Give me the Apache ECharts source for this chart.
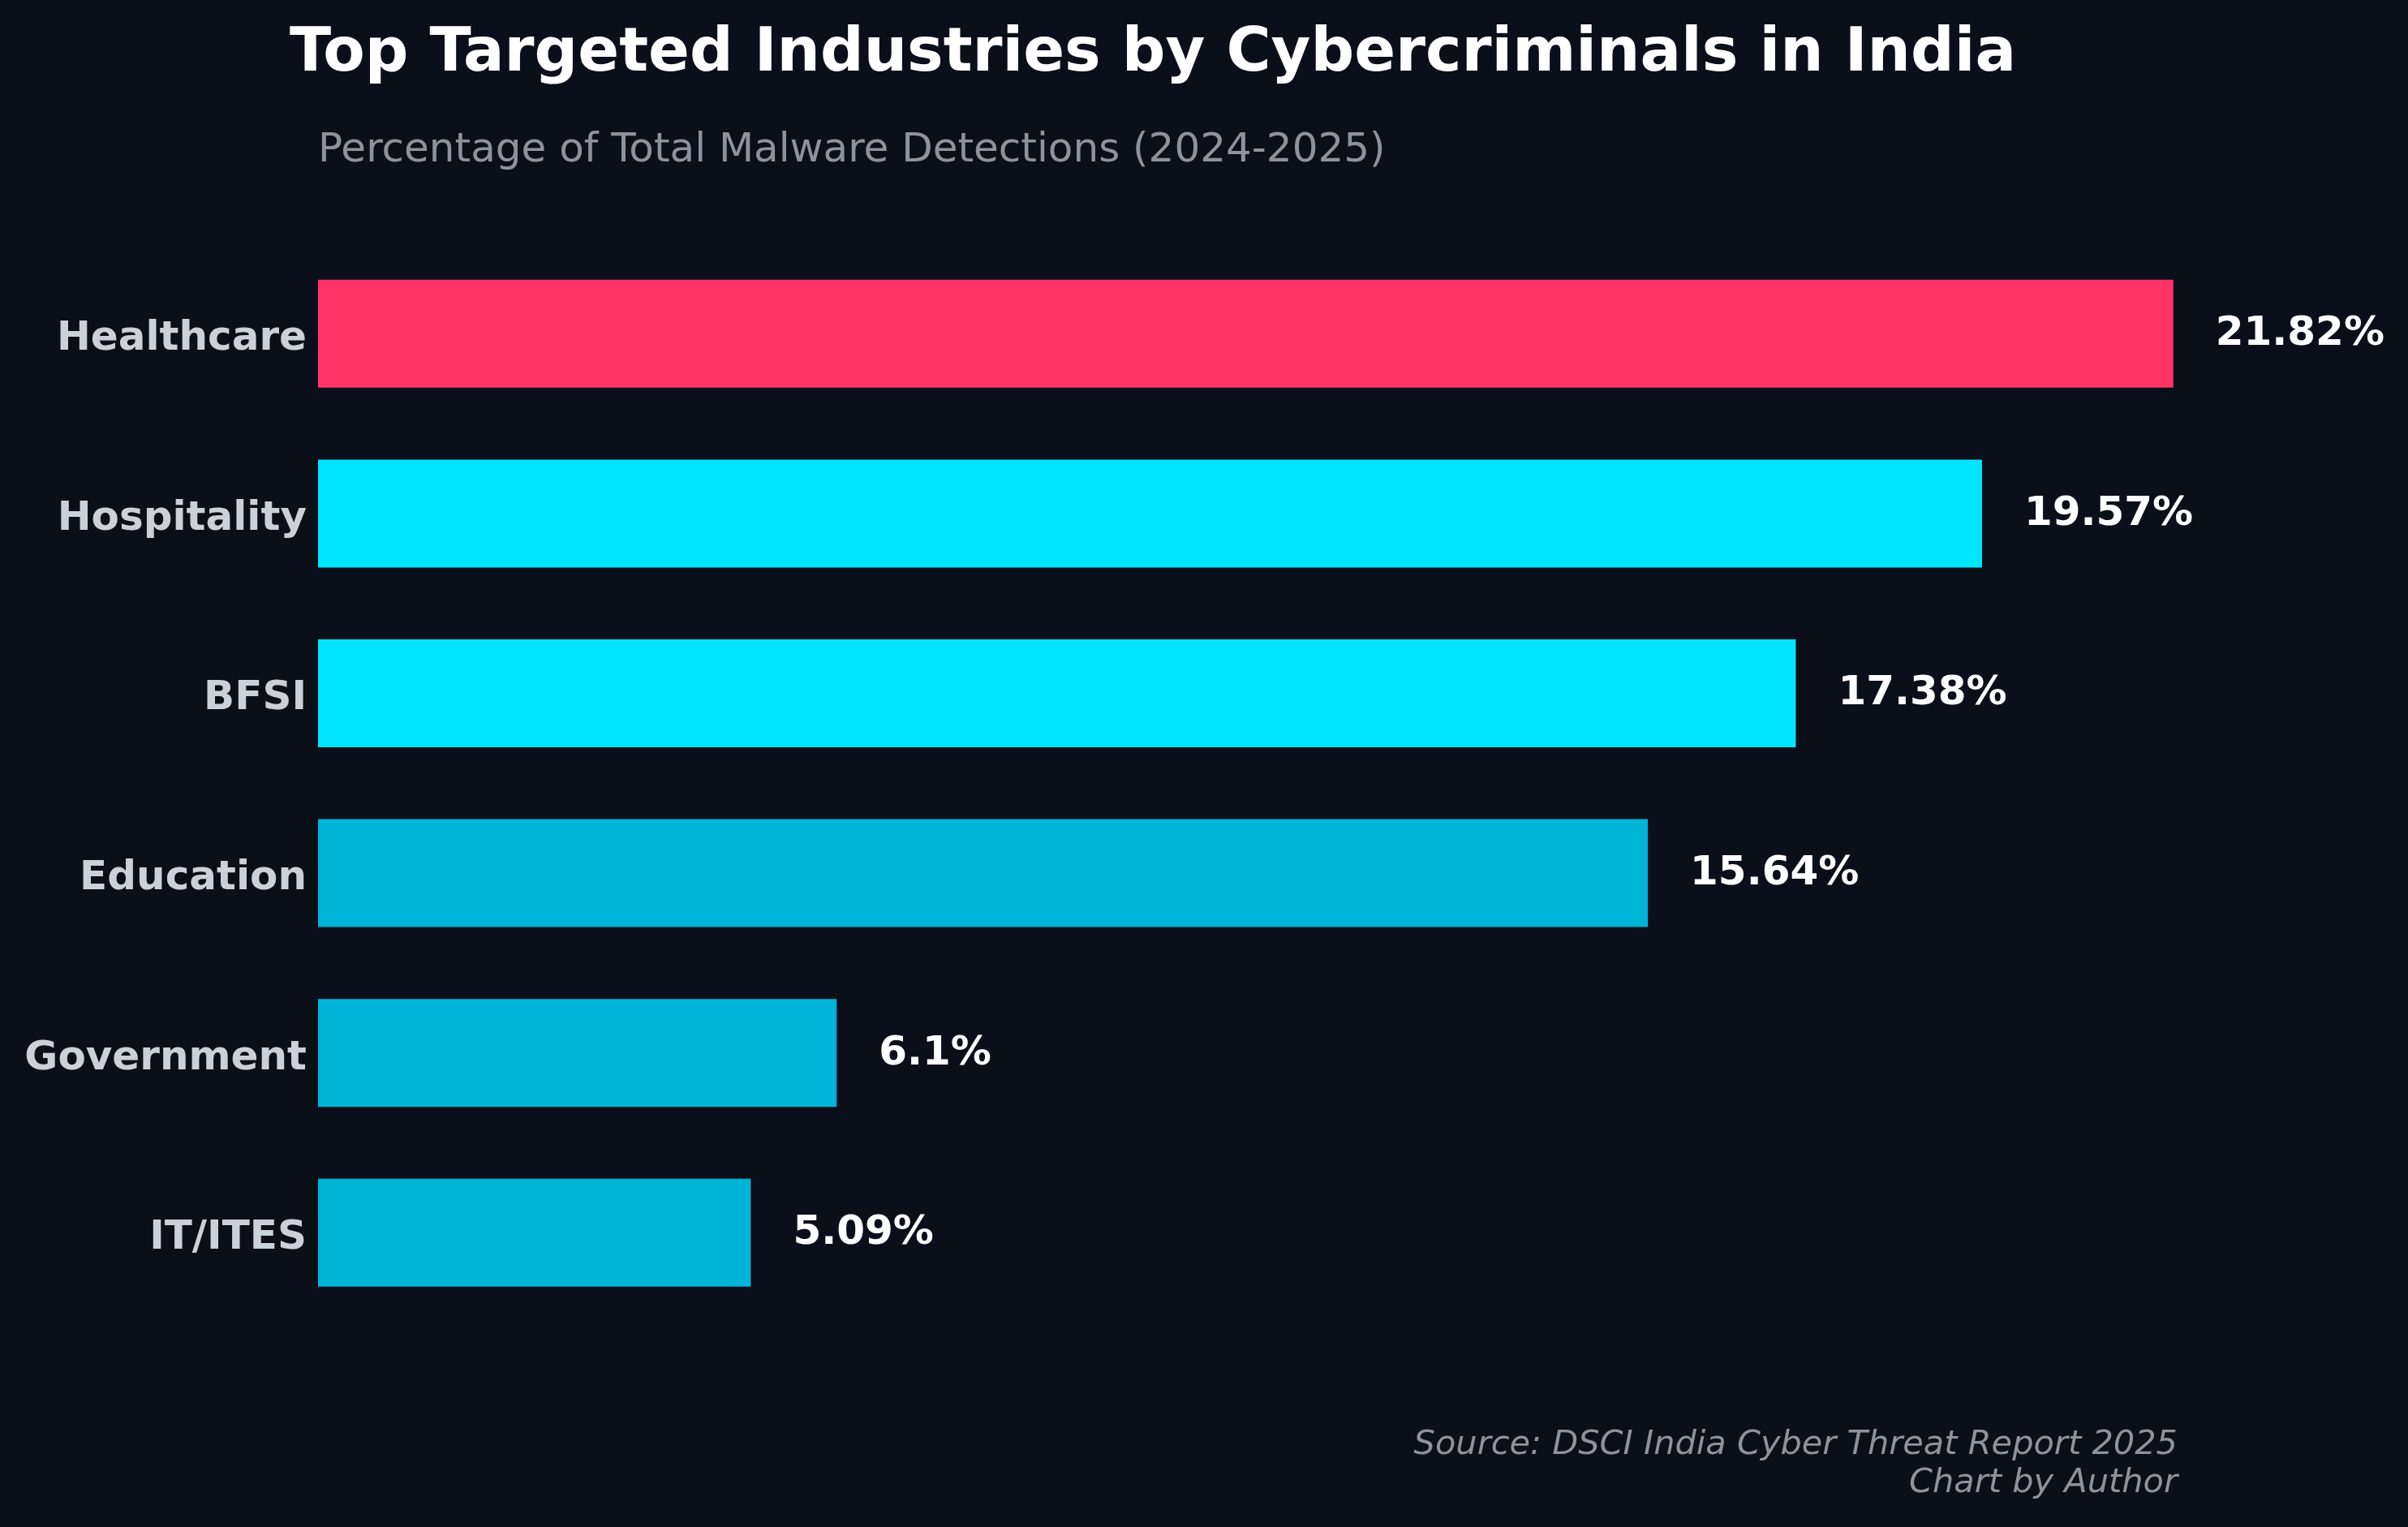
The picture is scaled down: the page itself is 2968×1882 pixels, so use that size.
<!DOCTYPE html>
<html>
<head>
<meta charset="utf-8">
<script src="https://cdn.jsdelivr.net/npm/echarts@6/dist/echarts.min.js"></script>
<style>
  html, body { margin: 0; padding: 0; background: #0b0f19; }
  #chart { width: 2968px; height: 1882px; }
</style>
</head>
<body>
<div id="chart"></div>
<script>
// ---- data ----
const industries = ['Healthcare', 'Hospitality', 'BFSI', 'Education', 'Government', 'IT/ITES'];
const detectionShare = [21.82, 19.57, 17.38, 15.64, 6.1, 5.09];
const titleText = 'Top Targeted Industries by Cybercriminals in India';
const subtitleText = 'Percentage of Total Malware Detections (2024-2025)';
const sourceLines = ['Source: DSCI India Cyber Threat Report 2025', 'Chart by Author'];

// ---- styling ----
const FONT = 'DejaVu Sans';
const BG = '#0b0f19';
const HIGHLIGHT = '#ff3366';
const BRIGHT = '#00e5ff';
const NORMAL = '#00b4d8';

const chart = echarts.init(document.getElementById('chart'), null, { renderer: 'canvas' });

chart.setOption({
  backgroundColor: BG,
  animation: false,
  title: [
    {
      text: titleText,
      left: 1421,
      top: 30,
      textAlign: 'center',
      padding: 0,
      textStyle: { fontFamily: FONT, fontSize: 75, fontWeight: 'bold', color: '#ffffff', lineHeight: 75 }
    },
    {
      text: subtitleText,
      left: 392,
      top: 161,
      padding: 0,
      textStyle: { fontFamily: FONT, fontSize: 50, fontWeight: 'normal', color: '#8b949e', lineHeight: 50 }
    }
  ],
  grid: { left: 392, right: 60.8, top: 300.5, bottom: 251.9, containLabel: false },
  xAxis: {
    type: 'value',
    min: 0,
    max: 24,
    show: false
  },
  yAxis: {
    type: 'category',
    data: industries,
    inverse: true,
    axisLine: { show: false },
    axisTick: { show: false },
    splitLine: { show: false },
    axisLabel: {
      margin: 14,
      formatter: function (v) { return '{lbl|' + v + '}'; },
      rich: {
        lbl: {
          padding: [14, 0, 0, 0],
          fontFamily: FONT,
          fontSize: 50,
          fontWeight: 'bold',
          color: '#c9d1d9'
        }
      },
      fontFamily: FONT,
      fontSize: 50,
      fontWeight: 'bold',
      color: '#c9d1d9'
    }
  },
  series: [{
    type: 'bar',
    data: detectionShare,
    barCategoryGap: '40%',
    itemStyle: {
      color: function (p) {
        if (p.dataIndex === 0) return HIGHLIGHT;
        if (p.dataIndex <= 2) return BRIGHT;
        return NORMAL;
      }
    },
    label: {
      show: true,
      position: 'right',
      distance: 52,
      offset: [0, 1],
      formatter: '{c}%',
      fontFamily: FONT,
      fontSize: 50,
      fontWeight: 'bold',
      color: '#ffffff'
    }
  }],
  graphic: [{
    type: 'text',
    right: 2968 - 2684,
    top: 1758,
    style: {
      text: sourceLines.join('\n'),
      font: 'italic 41.5px "DejaVu Sans"',
      fill: '#8b949e',
      textAlign: 'right',
      lineHeight: 47
    }
  }]
});
</script>
</body>
</html>
